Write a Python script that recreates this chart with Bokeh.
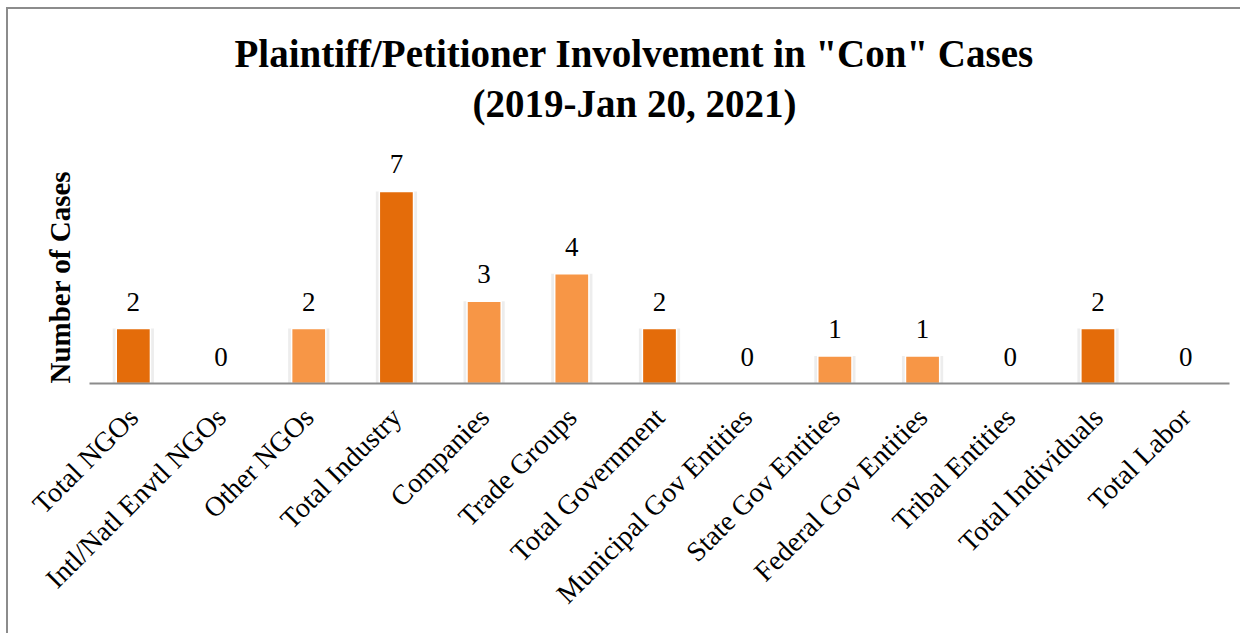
import math
from bokeh.plotting import figure
from bokeh.models import ColumnDataSource, Title, Range1d, FactorRange
from bokeh.embed import file_html
from bokeh.resources import INLINE
from bokeh.core.properties import value

categories = ["Total NGOs", "Intl/Natl Envtl NGOs", "Other NGOs", "Total Industry",
              "Companies", "Trade Groups", "Total Government", "Municipal Gov Entities",
              "State Gov Entities", "Federal Gov Entities", "Tribal Entities",
              "Total Individuals", "Total Labor"]
counts = [2, 0, 2, 7, 3, 4, 2, 0, 1, 1, 0, 2, 0]
is_total = [True, False, False, True, False, False, True, False, False, False, False, True, True]

title_line1 = 'Plaintiff/Petitioner Involvement in "Con" Cases'
title_line2 = "(2019-Jan 20, 2021)"
y_title = "Number of Cases"

DARK = "#E46C0A"
LIGHT = "#F79646"
FONT = "Liberation Serif"

source = ColumnDataSource(dict(
    cat=categories,
    n=counts,
    color=[DARK if t else LIGHT for t in is_total],
    label=[str(c) for c in counts],
))

p = figure(x_range=FactorRange(*categories, range_padding=0),
           y_range=Range1d(0, 9),
           width=1234, height=626,
           output_backend="svg", toolbar_location=None,
           min_border_left=81, min_border_right=13,
           min_border_top=127, min_border_bottom=252)

p.styles = {"border-top": "2px solid #8c8c8c", "border-left": "2px solid #8c8c8c",
            "margin-left": "6px", "margin-top": "7px"}

# soft shadow behind bars
p.vbar(x="cat", top="n", width=0.47, source=source,
       fill_color="#9a9a9a", fill_alpha=0.18, line_color=None)
p.vbar(x="cat", top="n", width=0.39, source=source,
       fill_color="color", line_color="white", line_width=1.5)

p.text(x="cat", y="n", text="label", source=source,
       y_offset=-27, text_align="center", text_baseline="middle",
       text_font=value(FONT), text_font_size="27px", text_color="black")

p.yaxis.visible = False
p.xgrid.grid_line_color = None
p.ygrid.grid_line_color = None
p.outline_line_color = None

ax = p.xaxis[0]
ax.axis_line_color = "#8c8c8c"
ax.axis_line_width = 2
ax.major_tick_line_color = None
ax.minor_tick_line_color = None
ax.major_label_orientation = math.pi / 4
ax.major_label_text_font = FONT
ax.major_label_text_font_size = "28px"
ax.major_label_text_color = "black"
ax.major_label_standoff = 23

t2 = Title(text=title_line2, align="left", offset=383, text_font=FONT,
           text_font_style="bold", text_font_size="39px", text_color="black",
           standoff=24)
t1 = Title(text=title_line1, align="left", offset=145, text_font=FONT,
           text_font_style="bold", text_font_size="39px", text_color="black",
           standoff=-14)
p.add_layout(t2, "above")
p.add_layout(t1, "above")

ty = Title(text=y_title, align="left", offset=0, text_font=FONT, text_font_style="bold",
           text_font_size="29px", text_color="black", standoff=28)
p.add_layout(ty, "left")

open("out.html", "w").write(file_html(p, INLINE))
